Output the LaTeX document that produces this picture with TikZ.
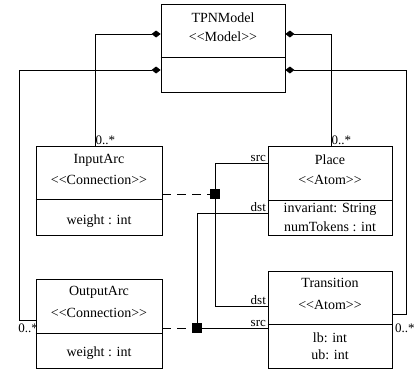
\documentclass[tikz,border=0pt]{standalone}
\usepackage{fontspec}
\setmainfont{Liberation Serif}
\usetikzlibrary{arrows.meta}
\newcommand{\lt}{<\kern0pt<}
\newcommand{\gtt}{>\kern0pt>}
\begin{document}
\begin{tikzpicture}[x=1bp,y=-1bp,
  cls/.style={draw,line width=0.8bp,rectangle,inner sep=0pt},
  txt/.style={font=\fontsize{14bp}{15bp}\selectfont,inner sep=0pt,anchor=center},
  lbl/.style={font=\fontsize{13bp}{14bp}\selectfont,inner sep=1.5bp},
  conn/.style={line width=0.8bp},
  comp/.style={line width=0.8bp,{Diamond[length=9bp,width=7bp]}-},
  dsh/.style={line width=0.8bp,dash pattern=on 9bp off 6bp},
  sq/.style={fill=black,draw=black,minimum size=9bp,inner sep=0pt,rectangle}]
\useasboundingbox (0,0) rectangle (415,370);
% classes
\node[cls,minimum width=124bp,minimum height=88bp] (tpn) at (223,48) {};
\node[cls,minimum width=126bp,minimum height=89bp] (inarc) at (99,190.5) {};
\node[cls,minimum width=124bp,minimum height=89bp] (place) at (330,190.5) {};
\node[cls,minimum width=126bp,minimum height=89bp] (outarc) at (99,323.5) {};
\node[cls,minimum width=124bp,minimum height=97bp] (trans) at (330,319.5) {};
% dividers
\draw[conn] (tpn.west |- 0,57) -- (tpn.east |- 0,57);
\draw[conn] (inarc.west |- 0,199) -- (inarc.east |- 0,199);
\draw[conn] (place.west |- 0,200) -- (place.east |- 0,200);
\draw[conn] (outarc.west |- 0,333) -- (outarc.east |- 0,333);
\draw[conn] (trans.west |- 0,324) -- (trans.east |- 0,324);
% texts
\node[txt] (t1) at (223,18) {TPNModel};
\node[txt] (t2) at (223,37) {\lt Model\gtt};
\node[txt] (i1) at (99,160) {InputArc};
\node[txt] (i2) at (99,180) {\lt Connection\gtt};
\node[txt] (i3) at (99,221) {weight : int};
\node[txt] (p1) at (330,160) {Place};
\node[txt] (p2) at (330,180) {\lt Atom\gtt};
\node[txt] (p3) at (330,209) {invariant: String};
\node[txt] (p4) at (330,227) {numTokens : int};
\node[txt] (o1) at (99,292) {OutputArc};
\node[txt] (o2) at (99,313) {\lt Connection\gtt};
\node[txt] (o3) at (99,353) {weight : int};
\node[txt] (r1) at (330,283) {Transition};
\node[txt] (r2) at (330,305) {\lt Atom\gtt};
\node[txt] (r3) at (330,338) {lb: int};
\node[txt] (r4) at (330,355) {ub: int};
% composition connectors
\coordinate (a1) at (95,34);
\coordinate (a2) at (19,70);
\coordinate (b2) at (19,320);
\coordinate (a3) at (331,34);
\coordinate (a4) at (406,70);
\coordinate (b4) at (406,314);
\draw[comp] (tpn.west |- a1) -- (a1) -- (a1 |- inarc.north);
\draw[comp] (tpn.west |- a2) -- (a2) -- (b2) -- (outarc.west |- b2);
\draw[comp] (tpn.east |- a3) -- (a3) -- (a3 |- place.north);
\draw[comp] (tpn.east |- a4) -- (a4) -- (b4) -- (trans.east |- b4);
% multiplicities
\node[lbl,anchor=south west,inner sep=0.5bp] (m1) at (a1 |- inarc.north) {0..*};
\node[lbl,anchor=south west,inner sep=0.5bp] (m2) at (a3 |- place.north) {0..*};
\node[lbl,anchor=east,inner sep=0pt] (m3) at (38,328) {0..*};
\node[lbl,anchor=west,inner sep=0pt] (m4) at (395,328) {0..*};
% association connectors
\coordinate (c1) at (215,163);
\coordinate (c2) at (215,306);
\coordinate (d1) at (197,213);
\node[sq] (sq1) at (215,194) {};
\node[sq] (sq2) at (197,328) {};
\draw[conn] (place.west |- c1) -- (c1) -- (c2) -- (trans.west |- c2);
\draw[conn] (place.west |- d1) -- (d1) -- (sq2.center) -- (trans.west |- sq2);
\draw[dsh] (inarc.east |- sq1) -- (sq1.west);
\draw[dsh] (outarc.east |- sq2) -- (sq2.west);
\node[sq] at (sq1) {};
\node[sq] at (sq2) {};
% role labels
\node[lbl,anchor=south east] (s1) at (place.west |- c1) {src};
\node[lbl,anchor=south east] (s2) at (place.west |- d1) {dst};
\node[lbl,anchor=south east] (s3) at (trans.west |- c2) {dst};
\node[lbl,anchor=south east] (s4) at (trans.west |- sq2) {src};
\end{tikzpicture}
\end{document}
